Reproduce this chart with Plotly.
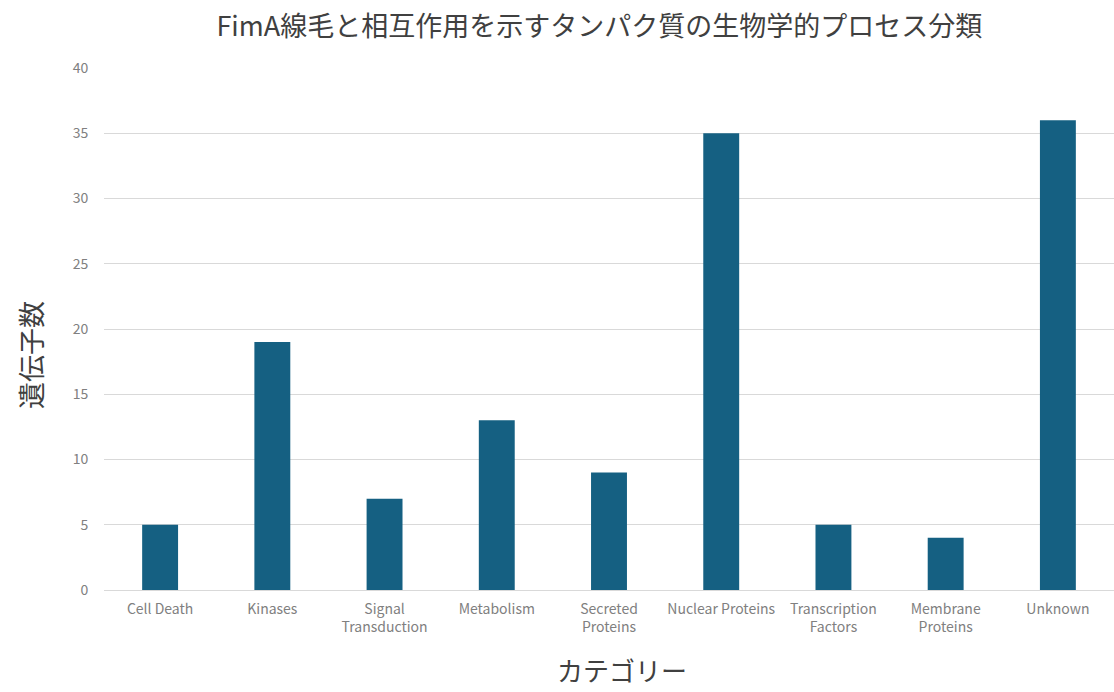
import plotly.graph_objects as go

categories = ["Cell Death", "Kinases", "Signal<br>Transduction", "Metabolism",
              "Secreted<br>Proteins", "Nuclear Proteins", "Transcription<br>Factors",
              "Membrane<br>Proteins", "Unknown"]
gene_counts = [5, 19, 7, 13, 9, 35, 5, 4, 36]
y_ticks = [0, 5, 10, 15, 20, 25, 30, 35, 40]

W, H = 1114, 692
L, R, T, B = 104, 0, 68, 102

fig = go.Figure()
fig.add_trace(go.Bar(x=categories, y=gene_counts, marker=dict(color="#156082", line=dict(width=0)),
                     width=0.32))

fig.update_layout(
    width=W, height=H,
    margin=dict(l=L, r=R, t=T, b=B),
    paper_bgcolor="white", plot_bgcolor="white",
    font=dict(family="Noto Sans CJK JP, Noto Sans, sans-serif"),
    title=dict(text="FimA線毛と相互作用を示すタンパク質の生物学的プロセス分類",
               x=0.538, xanchor="center", y=0.962, yanchor="middle",
               font=dict(size=27, color="#404040")),
    showlegend=False,
    bargap=0.68,
    annotations=[
        dict(text="遺伝子数", xref="paper", yref="paper",
             x=(30 - L) / (W - L - R), y=1 - (355 - T) / (H - T - B),
             xanchor="center", yanchor="middle", textangle=-90, showarrow=False,
             font=dict(size=27, color="#404040")),
        dict(text="カテゴリー", xref="paper", yref="paper",
             x=(622 - L) / (W - L - R), y=-(690 - (H - B)) / (H - T - B),
             xanchor="center", yanchor="bottom", showarrow=False,
             font=dict(size=26, color="#404040")),
    ],
)
fig.update_xaxes(
    showgrid=False, showline=True, linecolor="#d9d9d9", linewidth=1,
    tickfont=dict(size=14, color="#808080"), ticks="", ticklabelstandoff=6,
)
fig.update_yaxes(
    range=[0, 40], tickvals=y_ticks, showgrid=True, gridcolor="#d9d9d9", gridwidth=1,
    zeroline=False, showline=False, ticks="outside", ticklen=12, tickcolor="white",
    tickfont=dict(size=14, color="#808080"),
)

fig.write_html("out.html")
